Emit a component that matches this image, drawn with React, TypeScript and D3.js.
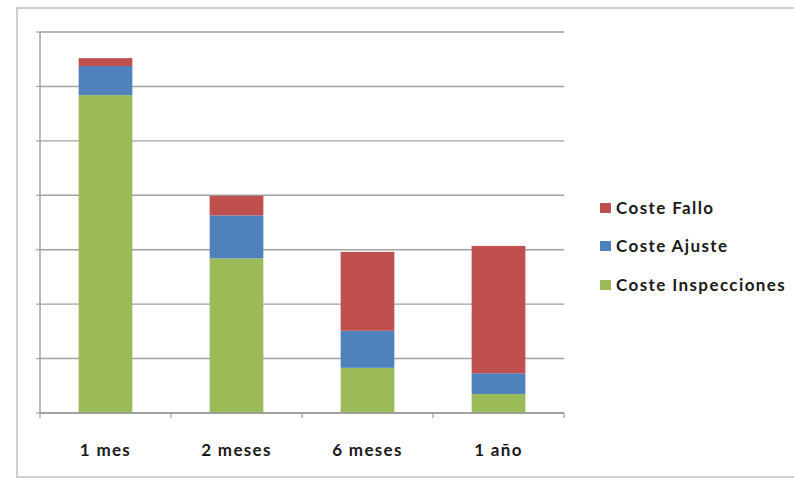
import React from "react";
import * as d3 from "d3";

// Stacked cost components per inspection interval
const categories = ["1 mes", "2 meses", "6 meses", "1 año"];
const costeInspecciones = [5.84, 2.84, 0.83, 0.35];
const costeAjuste = [0.535, 0.79, 0.68, 0.38];
const costeFallo = [0.145, 0.36, 1.45, 2.34];
const seriesNames = ["Coste Inspecciones", "Coste Ajuste", "Coste Fallo"];
const seriesColors = ["#9bbb59", "#4f81bd", "#c0504d"];
const yTicks = [0, 1, 2, 3, 4, 5, 6, 7];

const W = 794;
const H = 482;
const plot = { left: 40, right: 564, top: 32, bottom: 413 };

export default function App() {
  const rows = categories.map((c, i) => ({
    cat: c,
    "Coste Inspecciones": costeInspecciones[i],
    "Coste Ajuste": costeAjuste[i],
    "Coste Fallo": costeFallo[i],
  }));
  const stacked = d3.stack<any>().keys(seriesNames)(rows);

  const x = d3
    .scaleBand<string>()
    .domain(categories)
    .range([plot.left, plot.right])
    .paddingInner(0.59)
    .paddingOuter(0.295);
  const y = d3.scaleLinear().domain([0, 7]).range([plot.bottom, plot.top]);
  const step = x.step();
  const boundaries = d3.range(categories.length + 1).map((i) => plot.left + i * step);

  const font = "Lato, 'Open Sans', sans-serif";
  const legendOrder = [2, 1, 0];
  const legendY = [208, 246, 285];

  return (
    <svg
      width={W}
      height={H}
      style={{ position: "absolute", left: 0, top: 0, background: "#fff" }}
    >
      <rect x={17} y={8} width={800} height={469} fill="#fff" stroke="#cfcfcf" strokeWidth={2} />
      {/* gridlines */}
      {yTicks.map((t) => (
        <g key={t}>
          <line x1={plot.left} x2={plot.right} y1={y(t)} y2={y(t)} stroke="#a2a2a2" strokeWidth={1.4} />
          <line x1={plot.left - 4} x2={plot.left} y1={y(t)} y2={y(t)} stroke="#a2a2a2" strokeWidth={1.2} />
        </g>
      ))}
      {/* y axis line */}
      <line x1={plot.left} x2={plot.left} y1={plot.top} y2={plot.bottom} stroke="#9a9a9a" strokeWidth={1.4} />
      {/* bars */}
      {stacked.map((s, si) => (
        <g key={s.key} fill={seriesColors[si]}>
          {s.map((d, i) => (
            <rect
              key={i}
              x={x(categories[i])}
              width={x.bandwidth()}
              y={y(d[1])}
              height={y(d[0]) - y(d[1])}
            />
          ))}
        </g>
      ))}
      {/* x axis */}
      <line x1={plot.left} x2={plot.right} y1={plot.bottom} y2={plot.bottom} stroke="#9a9a9a" strokeWidth={1.4} />
      {boundaries.map((bx, i) => (
        <line key={i} x1={bx} x2={bx} y1={plot.bottom} y2={plot.bottom + 5} stroke="#9a9a9a" strokeWidth={1.2} />
      ))}
      {categories.map((c) => (
        <text
          key={c}
          x={(x(c) as number) + x.bandwidth() / 2}
          y={456}
          textAnchor="middle"
          fontFamily={font}
          fontWeight="bold"
          fontSize={17}
          letterSpacing={1.3}
          fill="#1a1a1a"
        >
          {c}
        </text>
      ))}
      {/* legend */}
      {legendOrder.map((si, k) => (
        <g key={si}>
          <rect x={600} y={legendY[k] - 5} width={11} height={10} fill={seriesColors[si]} />
          <text
            x={616}
            y={legendY[k]}
            dy="0.35em"
            fontFamily={font}
            fontWeight="bold"
            fontSize={17}
            letterSpacing={1.4}
            fill="#1a1a1a"
          >
            {seriesNames[si]}
          </text>
        </g>
      ))}
    </svg>
  );
}
